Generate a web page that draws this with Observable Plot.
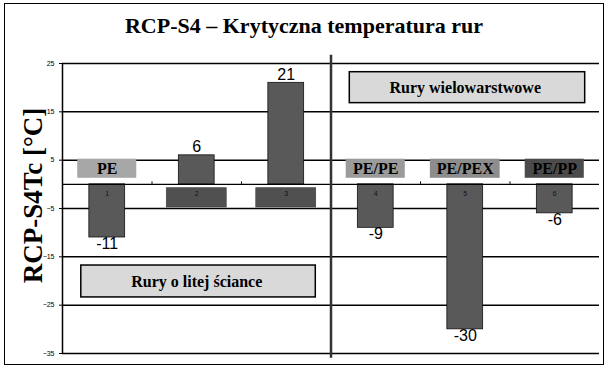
<!DOCTYPE html>
<html><head><meta charset="utf-8">
<script src="https://cdn.jsdelivr.net/npm/d3@7"></script>
<script src="https://cdn.jsdelivr.net/npm/@observablehq/plot@0.6"></script>
<style>
body{margin:0;background:#fff;}
#wrap{position:relative;width:611px;height:373px;}
#chart{position:absolute;left:0;top:0;}
#border{position:absolute;left:4px;top:3px;width:598px;height:360px;border:1.5px solid #000;pointer-events:none;}
#title{position:absolute;left:4px;width:600px;top:13px;text-align:center;font:bold 22px "Liberation Serif",serif;color:#000;}
</style></head><body>
<div id="wrap"><div id="chart"></div><div id="border"></div><div id="title">RCP-S4 – Krytyczna temperatura rur</div></div>
<script>
const categories = ["1", "2", "3", "4", "5", "6"];
const values = [-11, 6, 21, -9, -30, -6];
const pipeTypes = ["PE", "", "", "PE/PE", "PE/PEX", "PE/PP"];
const yTicks = [25, 15, 5, -5, -15, -25, -35];
const groupLabels = ["Rury o litej ściance", "Rury wielowarstwowe"];
const groupFirst = [1, 4];
const groupLast = [3, 6];
const yTitle = "RCP-S4Tc [°C]";

const data = categories.map((c, i) => ({i: i + 1, cat: c, value: values[i], type: pipeTypes[i]}));
const groups = groupLabels.map((g, k) => ({label: g, first: groupFirst[k], last: groupLast[k], k}));
const typeFill = {"PE": "#a7a7a7", "PE/PE": "#9b9b9b", "PE/PEX": "#8d8d8d", "PE/PP": "#4b4b4b"};
const half = d => d.type.length > 5 ? 0.39 : 0.33;
const boundaries = data.slice(1).map(d => d.i - 0.5);
const separator = [groupLast[0] + 0.5];
const serif = "Liberation Serif, Times New Roman, serif";
const sans = "Liberation Sans, Arial, sans-serif";

const chart = Plot.plot({
  width: 611, height: 373,
  marginLeft: 62, marginRight: 12, marginTop: 63, marginBottom: 20,
  style: {fontFamily: sans, fontSize: "7px", background: "transparent"},
  x: {domain: [0.5, 6.5], axis: null},
  y: {domain: [-35, 25], ticks: yTicks, tickSize: 3, tickPadding: 5, label: null},
  color: {type: "identity"},
  marks: [
    Plot.ruleY(yTicks, {stroke: "#000", strokeWidth: 1.5}),
    Plot.ruleX([0.5], {y1: -35, y2: 25, stroke: "#000", strokeWidth: 1.5}),
    Plot.rectY(data, {x1: d => d.i - 0.2, x2: d => d.i + 0.2, y1: 0, y2: "value", fill: "#595959", stroke: "#111", strokeWidth: 0.8}),
    Plot.ruleY([0], {stroke: "#000", strokeWidth: 1.3}),
    Plot.ruleX(boundaries, {y1: 0, y2: 0.5, stroke: "#000", strokeWidth: 1}),
    Plot.rect(data.filter(d => d.value > 0), {x1: d => d.i - 0.335, x2: d => d.i + 0.335, y1: -0.8, y2: -4.8, fill: "#505050", stroke: "#3c3c3c", strokeWidth: 0.6}),
    Plot.text(data, {x: "i", y: 0, text: "cat", dy: 9, fontSize: 7, fill: "#111"}),
    Plot.text(data.filter(d => d.value > 0), {x: "i", y: "value", text: d => String(d.value), lineAnchor: "bottom", dy: -3, fontSize: 16, fontFamily: sans, fill: "#000"}),
    Plot.text(data.filter(d => d.value < 0), {x: "i", y: "value", text: d => String(d.value), lineAnchor: "top", dy: 0, fontSize: 16, fontFamily: sans, fill: "#000"}),
    Plot.rect(data.filter(d => d.type), {x1: d => d.i - half(d), x2: d => d.i + half(d), y1: 1.25, y2: 5.2, fill: d => typeFill[d.type]}),
    Plot.text(data.filter(d => d.type), {x: "i", y: 3.2, text: "type", fontSize: 16, fontWeight: "bold", fontFamily: serif, fill: "#000"}),
    Plot.ruleX(separator, {y1: -36, y2: 26.7, stroke: "#333", strokeWidth: 2.5}),
    Plot.rect(groups, {x1: d => d.first - 0.29, x2: d => d.last + (d.k ? 0.34 : 0.33), y1: d => d.k ? 16.8 : -16.8, y2: d => d.k ? 23.2 : -23.4, fill: "#d9d9d9", stroke: "#000", strokeWidth: 1.5}),
    Plot.text(groups, {x: d => (d.first + d.last) / 2, y: d => d.k ? 20 : -20.1, text: "label", fontSize: 16, fontWeight: "bold", fontFamily: serif, fill: "#000"}),
    Plot.text([yTitle], {frameAnchor: "left", text: d => d, rotate: -90, textAnchor: "middle", dx: -29, dy: -13, fontSize: 27, fontWeight: "bold", fontFamily: serif, fill: "#000"})
  ]
});
document.getElementById("chart").appendChild(chart);
</script>
</body></html>
